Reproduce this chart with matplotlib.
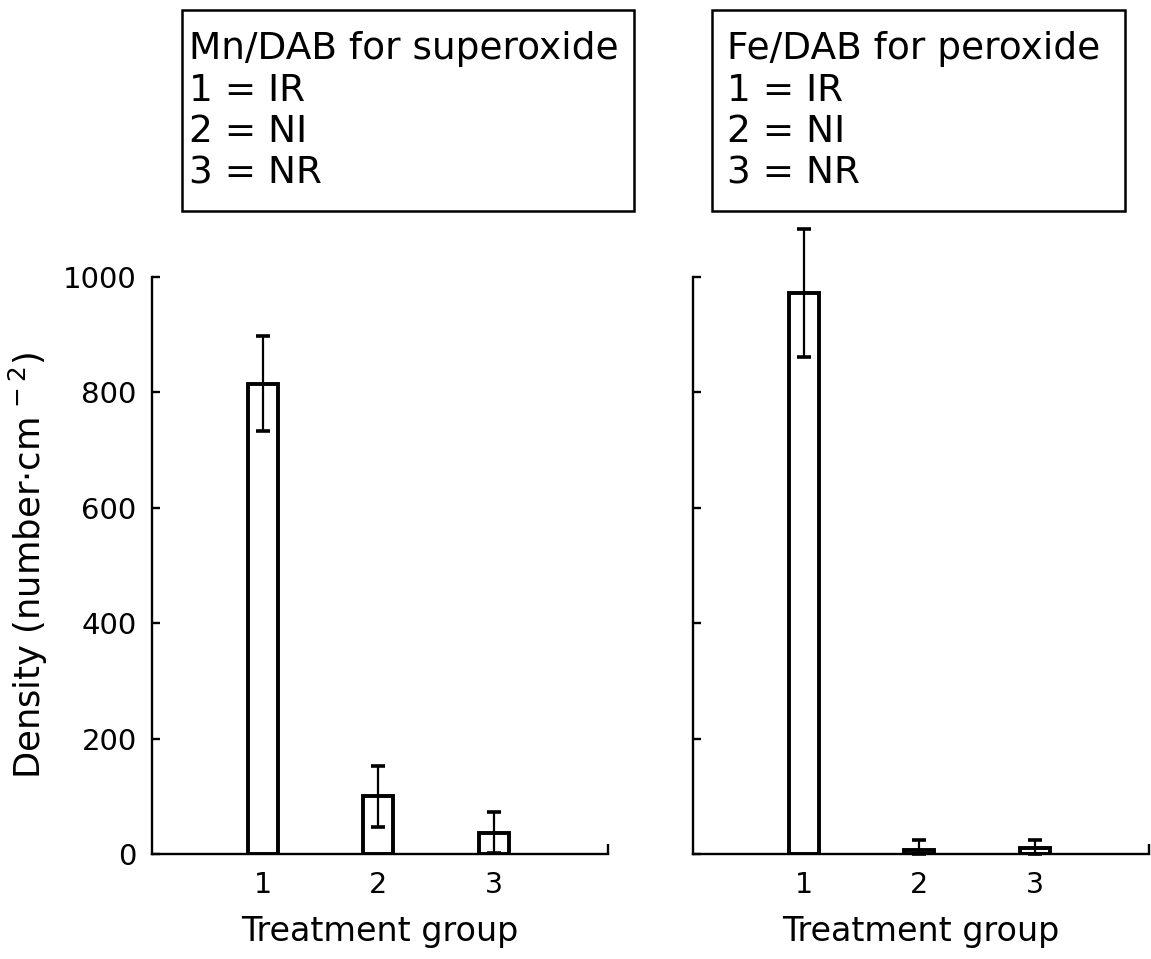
import matplotlib
matplotlib.use("Agg")
import matplotlib.pyplot as plt
from matplotlib.patches import Rectangle

plt.rcParams['font.family'] = ['DejaVu Sans']
plt.rcParams['mathtext.fontset'] = 'dejavusans'

# ---- data ----
groups = [1, 2, 3]
group_labels = ["1", "2", "3"]
mn_density = [815, 100, 37]
mn_error = [82, 53, 35]
fe_density = [972, 7, 10]
fe_error = [111, 17, 14]
y_ticks = [0, 200, 400, 600, 800, 1000]
y_tick_labels = ["0", "200", "400", "600", "800", "1000"]
box_left = ["Mn/DAB for superoxide", "1 = IR", "2 = NI", "3 = NR"]
box_right = ["Fe/DAB for peroxide", "1 = IR", "2 = NI", "3 = NR"]
x_label = "Treatment group"
y_label = r"Density (number$\cdot$cm$^{\,-2}$)"

W, H = 1151, 959
fig = plt.figure(figsize=(W / 100, H / 100), dpi=100)

def fx(px):
    return px / W

def fy(py):
    return 1 - py / H

ax_bottom = fy(854)
ax_h = 577 / H
ax1 = fig.add_axes([fx(152), ax_bottom, 456 / W, ax_h])
ax2 = fig.add_axes([fx(693), ax_bottom, 456 / W, ax_h])

xlim = (0.04, 3.99)

for ax, vals, errs, show_labels in [(ax1, mn_density, mn_error, True),
                                    (ax2, fe_density, fe_error, False)]:
    ax.bar(groups, vals, width=0.26, color="white", edgecolor="black",
           linewidth=2.8, zorder=2)
    lower = [min(e, v) for e, v in zip(errs, vals)]
    eb = ax.errorbar(groups, vals, yerr=[lower, errs], fmt="none",
                     ecolor="black", elinewidth=1.6, capsize=5,
                     capthick=2.6, zorder=3)
    for art in list(eb.lines[1]) + list(eb.lines[2]):
        art.set_clip_on(False)
    ax.set_xlim(*xlim)
    ax.set_ylim(0, 1000)
    ax.spines["top"].set_visible(False)
    ax.spines["right"].set_visible(False)
    ax.spines["left"].set_linewidth(1.7)
    ax.spines["bottom"].set_linewidth(1.7)
    ax.set_yticks(y_ticks)
    ax.set_xticks(groups)
    ax.set_xticklabels(group_labels, fontsize=20.5)
    ax.set_xticks([xlim[1]], minor=True)
    ax.tick_params(axis="x", which="major", direction="in", length=4,
                   width=1.4, pad=12)
    ax.tick_params(axis="x", which="minor", direction="in", length=7,
                   width=1.7)
    ax.tick_params(axis="y", direction="in", length=5.5, width=1.7, pad=11)
    if show_labels:
        ax.set_yticklabels(y_tick_labels, fontsize=21)
        ax.set_ylabel(y_label, fontsize=25.5, labelpad=9)
    else:
        ax.set_yticklabels([])
    ax.set_xlabel(x_label, fontsize=24, labelpad=12)

# ---- legend boxes ----
baselines = [59, 101, 142, 183]

def draw_box(x0, x1, y0, y1, lines, tx):
    r = Rectangle((fx(x0), fy(y1)), (x1 - x0) / W, (y1 - y0) / H,
                  transform=fig.transFigure, fill=False, edgecolor="black",
                  linewidth=1.8)
    fig.patches.append(r)
    for line, b in zip(lines, baselines):
        fig.text(fx(tx), fy(b), line, fontsize=27, va="baseline", ha="left")

draw_box(182, 634, 10, 211, box_left, 189)
draw_box(712, 1125, 10, 211, box_right, 727)

fig.savefig("out.png", dpi=100)
